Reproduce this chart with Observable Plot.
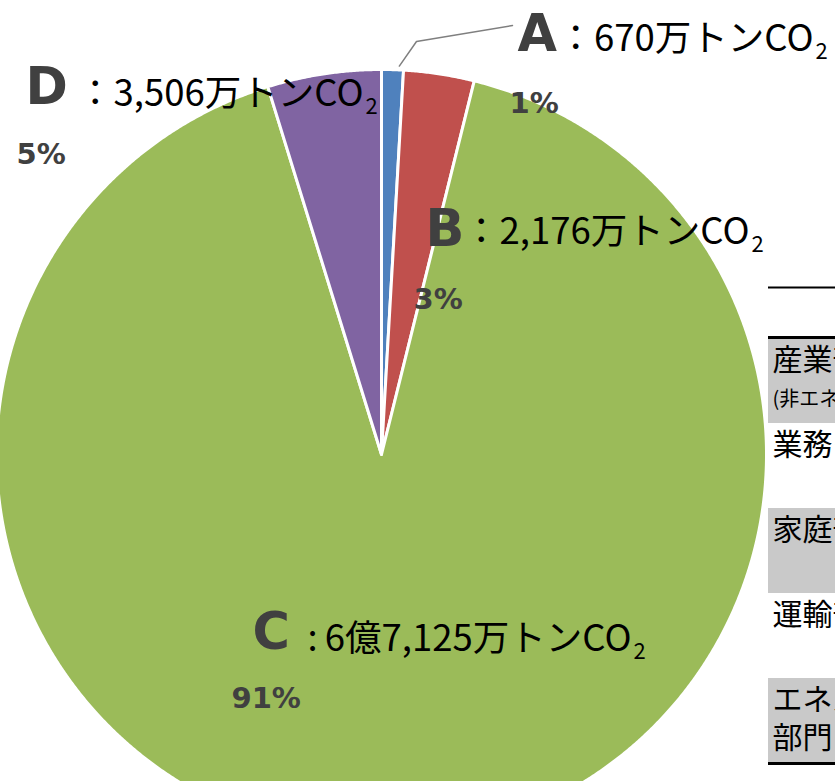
<!DOCTYPE html>
<html><head><meta charset="utf-8">
<script src="https://cdn.jsdelivr.net/npm/d3@7"></script>
<script src="https://cdn.jsdelivr.net/npm/@observablehq/plot@0.6"></script>
<style>html,body{margin:0;padding:0;background:#fff;overflow:hidden;}#chart{width:835px;height:781px;overflow:hidden;}</style>
</head><body><div id="chart"></div>
<script>
// ---- data ----
const categories = ["A", "B", "C", "D"];
const values = [670, 2176, 67125, 3506]; // 万トンCO2
const valueTexts = ["：670万トンCO", "：2,176万トンCO", ":\u20096億7,125万トンCO", "：3,506万トンCO"];
const tableMain = ["産業部門", "業務その他部門", "家庭部門", "運輸部門", "エネルギー転換"];
const tableSub = ["(非エネルギー起源CO2を含む)", "", "", "", "部門"];
const tableShaded = [true, false, true, false, true];

// ---- layout / style ----
const W = 835, H = 781;
const pie = {cx: 381, cy: 454, r: 385};
const colors = ["#4F81BD", "#C0504D", "#9BBB59", "#8064A2"];
const labelLayout = {
  A: {letter: [517, 50], textEnd: [813, 50], pct: [509, 112]},
  B: {letter: [425, 245], textEnd: [749, 243], pct: [413, 308]},
  C: {letter: [252, 648], textEnd: [631, 650], pct: [231, 707]},
  D: {letter: [25, 103], textEnd: [363, 105], pct: [16, 163]}
};
const table = {x: 768, xEnd: 900, top: 338, rowH: 85, headerLine: 287, textX: 772};
const jp = "'Noto Sans CJK JP', 'Noto Sans', sans-serif";
const bold = "'DejaVu Sans', Verdana, sans-serif";

// ---- build ----
const rows = categories.map((c, i) => ({cat: c, value: values[i], text: valueTexts[i]}));
const total = d3.sum(values);
const arcs = d3.pie().sort(null).value(d => d.value)(rows);

const slicePts = [];
const step = Math.PI / 720;
for (const a of arcs) {
  slicePts.push({cat: a.data.cat, px: pie.cx, py: pie.cy});
  const n = Math.max(2, Math.ceil((a.endAngle - a.startAngle) / step));
  for (let k = 0; k <= n; k++) {
    const t = a.startAngle + (a.endAngle - a.startAngle) * k / n;
    slicePts.push({cat: a.data.cat, px: pie.cx + pie.r * Math.sin(t), py: pie.cy - pie.r * Math.cos(t)});
  }
}

const labels = rows.map(d => {
  const L = labelLayout[d.cat];
  return {
    cat: d.cat, text: d.text,
    lx: L.letter[0], ly: L.letter[1],
    tx: L.textEnd[0], ty: L.textEnd[1],
    px: L.pct[0], py: L.pct[1],
    pct: Math.round(d.value / total * 100) + "%"
  };
});

// leader line for the small slice A
const aArc = arcs[0];
const aAng = aArc.startAngle + (aArc.endAngle - aArc.startAngle) * 0.8;
const leader = [
  {px: pie.cx + pie.r * 1.01 * Math.sin(aAng), py: pie.cy - pie.r * 1.01 * Math.cos(aAng)},
  {px: 416, py: 41},
  {px: labelLayout.A.letter[0] - 5, py: 25}
];

const tRows = tableMain.map((m, i) => ({
  main: m, sub: tableSub[i], shaded: tableShaded[i],
  y1: table.top + i * table.rowH, y2: table.top + (i + 1) * table.rowH
}));
const tLines = [
  {y: table.headerLine, w: 2},
  {y: table.top - 1, w: 3},
  {y: table.top + tableMain.length * table.rowH, w: 3}
];

const chart = Plot.plot({
  width: W, height: H, margin: 0,
  style: {overflow: "hidden", background: "white"},
  x: {domain: [0, W], range: [0, W], axis: null},
  y: {domain: [0, H], range: [0, H], axis: null},
  color: {domain: categories, range: colors},
  marks: [
    Plot.line(slicePts, {x: "px", y: "py", z: "cat", fill: "cat", stroke: "white", strokeWidth: 3,
      curve: "linear-closed", strokeLinejoin: "round"}),
    Plot.line(leader, {x: "px", y: "py", stroke: "#7f7f7f", strokeWidth: 1.5}),
    // table
    Plot.rect(tRows.filter(d => d.shaded), {x1: table.x, x2: table.xEnd, y1: "y1", y2: "y2", fill: "#c9c9c9"}),
    Plot.ruleY(tLines, {y: "y", x1: table.x, x2: table.xEnd, stroke: "black", strokeWidth: d => d.w}),
    Plot.text(tRows, {x: table.textX, y: d => d.y1 + 31, text: "main", textAnchor: "start", lineAnchor: "bottom",
      fontFamily: jp, fontSize: 30, fill: "black"}),
    Plot.text(tRows.filter(d => d.sub && d.sub.startsWith("(")), {x: table.textX, y: d => d.y1 + 67, text: "sub", textAnchor: "start", lineAnchor: "bottom",
      fontFamily: jp, fontSize: 20, fill: "black"}),
    Plot.text(tRows.filter(d => d.sub && !d.sub.startsWith("(")), {x: table.textX, y: d => d.y1 + 69, text: "sub", textAnchor: "start", lineAnchor: "bottom",
      fontFamily: jp, fontSize: 30, fill: "black"}),
    // slice labels
    Plot.text(labels, {x: "lx", y: "ly", text: "cat", textAnchor: "start", lineAnchor: "bottom",
      fontFamily: bold, fontWeight: "bold", fontSize: 51, fill: "#404040"}),
    Plot.text(labels, {x: "tx", y: "ty", text: "text", textAnchor: "end", lineAnchor: "bottom",
      fontFamily: jp, fontSize: 36.5, fill: "black"}),
    Plot.text(labels, {x: d => d.tx + 2, y: d => d.ty + 8, text: () => "2", textAnchor: "start", lineAnchor: "bottom",
      fontFamily: jp, fontSize: 22, fill: "black"}),
    Plot.text(labels, {x: "px", y: "py", text: "pct", textAnchor: "start", lineAnchor: "bottom",
      fontFamily: bold, fontWeight: "bold", fontSize: 29, fill: "#404040", style: "letter-spacing:1.5px"})
  ]
});
document.getElementById("chart").appendChild(chart);
</script>
</body></html>
